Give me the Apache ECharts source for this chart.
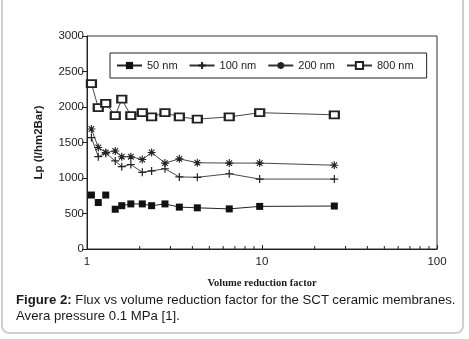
<!DOCTYPE html>
<html>
<head>
<meta charset="utf-8">
<script src="https://cdn.jsdelivr.net/npm/echarts@6/dist/echarts.min.js"></script>
<style>
  html, body { margin: 0; padding: 0; background: #fff; }
  #wrap { position: relative; width: 469px; height: 339px; overflow: hidden; }
  #frame { position: absolute; left: 1px; top: -12px; width: 463px; height: 346px; border: 2px solid #cfcfcf; border-radius: 8px; box-sizing: border-box; }
  #chart { position: absolute; left: 0; top: 0; width: 469px; height: 339px; }
  #cap { position: absolute; left: 16px; top: 292px; width: 452px; font-family: "Liberation Sans", Arial, sans-serif; font-size: 13.2px; line-height: 16px; color: #1a1a1a; white-space: nowrap; }
</style>
</head>
<body>
<div id="wrap">
  <div id="chart"></div>
  <div id="frame"></div>
  <div id="cap"><b>Figure 2:</b> Flux vs volume reduction factor for the SCT ceramic membranes.<br>Avera pressure 0.1 MPa [1].</div>
</div>
<script>
// Volume reduction factor (x) positions shared by all series
const vrf = [1.06, 1.16, 1.28, 1.45, 1.58, 1.78, 2.07, 2.34, 2.79, 3.37, 4.27, 6.5, 9.7, 25.9];
// Lp values (l/hm2Bar)
const lp50  = [760, 655, 760, 560, 610, 635, 635, 610, 635, 590, 580, 565, 600, 605];
const lp100 = [1570, 1300, 1350, 1240, 1160, 1190, 1080, 1100, 1130, 1015, 1010, 1060, 985, 985];
const lp200 = [1690, 1430, 1360, 1380, 1300, 1300, 1260, 1360, 1210, 1270, 1215, 1210, 1210, 1180];
const lp800 = [2330, 1990, 2050, 1880, 2110, 1880, 1920, 1860, 1920, 1860, 1830, 1860, 1920, 1890];
const seriesNames = ['50 nm', '100 nm', '200 nm', '800 nm'];
const yTicks = [0, 500, 1000, 1500, 2000, 2500, 3000];
const minorTicks = [2, 3, 4, 5, 6, 7, 8, 9, 20, 30, 40, 50, 60, 70, 80, 90];
const unconnected50 = 3; // first points of 50 nm are not joined by the line

const pair = (ys) => vrf.map((x, i) => [x, ys[i]]);
const plusPath = 'path://M0,5L10,5M5,0L5,10';
const starPath = 'path://M0,5L10,5M5,0L5,10M1.5,1.5L8.5,8.5M8.5,1.5L1.5,8.5';
const ink = '#1c1c1c';

const chart = echarts.init(document.getElementById('chart'), null, { renderer: 'canvas' });
chart.setOption({
  animation: false,
  backgroundColor: '#fff',
  textStyle: { fontFamily: 'Liberation Sans, Arial, sans-serif' },
  grid: { left: 87, right: 32, top: 36, bottom: 90, show: true, borderColor: '#333', borderWidth: 1, backgroundColor: 'transparent' },
  legend: {
    data: seriesNames,
    left: 110, top: 53,
    itemWidth: 25, itemHeight: 9, itemGap: 11,
    padding: [7, 13, 7, 6],
    borderColor: '#222', borderWidth: 1,
    textStyle: { fontSize: 11, color: ink, fontFamily: 'Liberation Sans, Arial, sans-serif' },
    selectedMode: false
  },
  xAxis: {
    type: 'log', logBase: 10, min: 1, max: 100,
    axisLine: { show: true, lineStyle: { color: '#222', width: 1.2 } },
    axisTick: { show: true, inside: true, length: 4, lineStyle: { color: '#222' } },
    axisLabel: { fontSize: 11.5, color: ink, margin: 7 },
    splitLine: { show: false },
    name: 'Volume reduction factor', nameLocation: 'middle', nameGap: 29,
    nameTextStyle: { fontFamily: 'Liberation Serif, Times New Roman, serif', fontWeight: 'bold', fontSize: 10.5, color: ink }
  },
  yAxis: {
    type: 'value', min: 0, max: 3000, interval: 500,
    axisLine: { show: true, lineStyle: { color: '#222', width: 1 } },
    axisTick: { show: true, inside: false, length: 5, lineStyle: { color: '#222' } },
    axisLabel: { fontSize: 11.5, color: ink, margin: 3, formatter: (v) => yTicks.includes(v) ? String(v) : '' },
    splitLine: { show: false },
    name: 'Lp (l/hm2Bar)', nameLocation: 'middle', nameGap: 42, nameRotate: 90,
    nameTextStyle: { fontWeight: 'bold', fontSize: 11.5, color: ink }
  },
  series: [
    {
      name: '50 nm', type: 'line', data: pair(lp50).slice(unconnected50),
      symbol: 'rect', symbolSize: 7, itemStyle: { color: '#111' },
      lineStyle: { color: '#222', width: 1 }
    },
    {
      name: '50 nm', type: 'scatter', data: pair(lp50).slice(0, unconnected50),
      symbol: 'rect', symbolSize: 7, itemStyle: { color: '#111', opacity: 1 }
    },
    {
      name: '100 nm', type: 'line', data: pair(lp100),
      symbol: plusPath, symbolSize: 8,
      itemStyle: { color: '#222', borderColor: '#222', borderWidth: 1.2 },
      lineStyle: { color: '#333', width: 0.9 }
    },
    {
      name: '200 nm', type: 'line', data: pair(lp200),
      symbol: starPath, symbolSize: 8,
      itemStyle: { color: '#222', borderColor: '#222', borderWidth: 1.1 },
      lineStyle: { color: '#333', width: 0.9 }
    },
    {
      name: '800 nm', type: 'line', data: pair(lp800),
      symbol: 'emptyRect', symbolSize: [9, 7],
      itemStyle: { color: '#222', borderColor: '#222', borderWidth: 1 },
      lineStyle: { color: '#333', width: 0.9 }
    },
    {
      type: 'custom', silent: true, data: minorTicks.map(v => [v, 0]),
      renderItem: (params, api) => {
        const p = api.coord([api.value(0), 0]);
        return { type: 'line', shape: { x1: p[0], y1: p[1], x2: p[0], y2: p[1] - 3 }, style: { stroke: '#222', lineWidth: 1 } };
      }
    }
  ]
});
</script>
</body>
</html>
